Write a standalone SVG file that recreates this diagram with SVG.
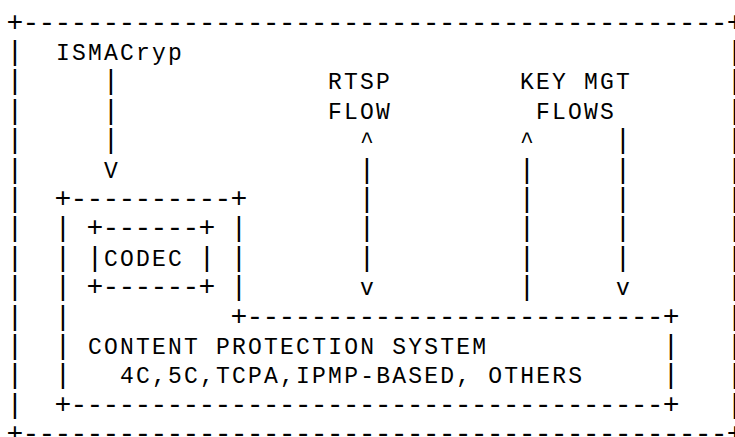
<svg xmlns="http://www.w3.org/2000/svg" width="735" height="437" viewBox="0 0 735 437">
  <!-- Character-grid drawing: columns are 16px wide, rows 29.4px apart.
       Labels in column c start at x = 8.1 + 16c; rules and bars (larger glyphs) at x = 6.6 + 16c.
       Row r has its baseline at y = 30.6 + 29.4r. -->
  <style>
    text { font-family: "Liberation Mono", "Courier New", monospace; fill: #000; }
    .lbl { font-size: 23px; letter-spacing: 2.2px; }
    .g { font-size: 28px; letter-spacing: -0.8px; }
  </style>
  <rect width="735" height="437" fill="#fff"/>

  <!-- outer frame -->
  <g id="frame" class="g">
    <text x="6.6" y="30.6">+--------------------------------------------+</text>
    <text x="6.6" y="442.2">+--------------------------------------------+</text>
    <text x="6.6 6.6 6.6 6.6 6.6 6.6 6.6 6.6 6.6 6.6 6.6 6.6 6.6" y="60 89.4 118.8 148.2 177.6 207 236.4 265.8 295.2 324.6 354 383.4 412.8">|||||||||||||</text>
    <text x="726.6 726.6 726.6 726.6 726.6 726.6 726.6 726.6 726.6 726.6 726.6 726.6 726.6" y="60 89.4 118.8 148.2 177.6 207 236.4 265.8 295.2 324.6 354 383.4 412.8">|||||||||||||</text>
  </g>

  <!-- flow labels -->
  <g id="ismacryp" class="lbl">
    <text x="56.1" y="60">ISMACryp</text>
  </g>
  <g id="rtsp-flow" class="lbl">
    <text x="328.1" y="89.4">RTSP</text>
    <text x="328.1" y="118.8">FLOW</text>
  </g>
  <g id="key-mgt-flows" class="lbl">
    <text x="520.1" y="89.4">KEY MGT</text>
    <text x="536.1" y="118.8">FLOWS</text>
  </g>

  <!-- terminal outline wrapping the codec and the content protection system -->
  <g id="terminal" class="g">
    <text x="54.6" y="207">+----------+</text>
    <text x="54.6 54.6 54.6 54.6 54.6 54.6" y="236.4 265.8 295.2 324.6 354 383.4">||||||</text>
    <text x="230.6 230.6 230.6" y="236.4 265.8 295.2">|||</text>
    <text x="54.6" y="412.8">+-------------------------------------+</text>
  </g>

  <!-- codec -->
  <g id="codec">
    <text class="g" x="86.6" y="236.4">+------+</text>
    <text class="g" x="86.6" y="265.8">|</text>
    <text class="lbl" x="104.1" y="265.8">CODEC</text>
    <text class="g" x="198.6" y="265.8">|</text>
    <text class="g" x="86.6" y="295.2">+------+</text>
  </g>

  <!-- content protection system -->
  <g id="content-protection">
    <text class="g" x="230.6" y="324.6">+--------------------------+</text>
    <text class="g" x="662.6 662.6" y="354 383.4">||</text>
    <text class="lbl" x="88.1" y="354">CONTENT PROTECTION SYSTEM</text>
    <text class="lbl" x="120.1" y="383.4">4C,5C,TCPA,IPMP-BASED, OTHERS</text>
  </g>

  <!-- vertical flow connectors with their arrowheads -->
  <g id="connectors">
    <text class="g" x="102.6 102.6 102.6" y="89.4 118.8 148.2">|||</text>
    <text class="lbl" x="104.1" y="177.6">V</text>
    <text class="lbl" x="360.1" y="148.2">^</text>
    <text class="g" x="358.6 358.6 358.6 358.6" y="177.6 207 236.4 265.8">||||</text>
    <text class="lbl" x="360.1" y="295.2">v</text>
    <text class="lbl" x="520.1" y="148.2">^</text>
    <text class="g" x="518.6 518.6 518.6 518.6 518.6" y="177.6 207 236.4 265.8 295.2">|||||</text>
    <text class="g" x="614.6 614.6 614.6 614.6 614.6" y="148.2 177.6 207 236.4 265.8">|||||</text>
    <text class="lbl" x="616.1" y="295.2">v</text>
  </g>
</svg>
